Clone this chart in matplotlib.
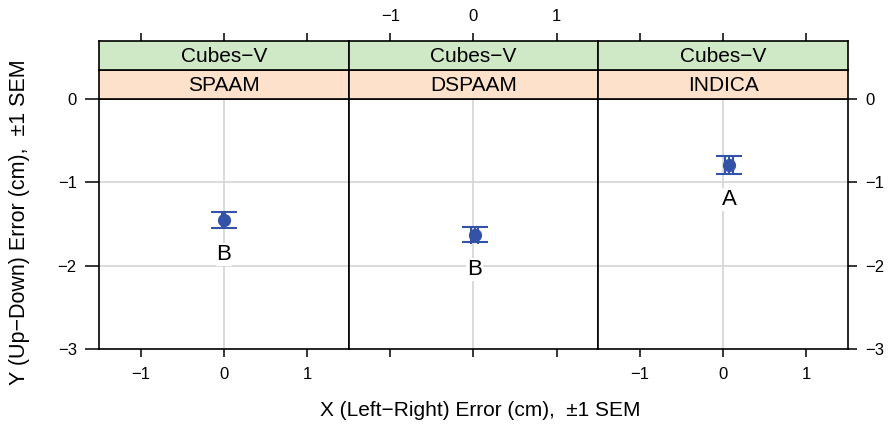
import matplotlib.pyplot as plt

plt.rcParams['font.family'] = ['Liberation Sans', 'DejaVu Sans']

# mean placement error per calibration method, cm
methods = ["SPAAM", "DSPAAM", "INDICA"]
condition = "Cubes\u2212V"
x_mean = [0.0, 0.015, 0.07]
y_mean = [-1.45, -1.63, -0.79]
x_sem = [0.02, 0.04, 0.05]
y_sem = [0.10, 0.09, 0.11]
groups = ["B", "B", "A"]

xticks = [-1, 0, 1]
yticks = [0, -1, -2, -3]

W, H = 892, 434
fig = plt.figure(figsize=(W / 100, H / 100), dpi=100)

left, right = 99, 848
top, bottom = 99, 349
strip_h = 29
pw = (right - left) / 3
blue = "#3352a8"
green = "#cfe8c6"
peach = "#fde1ca"


def fx(px):
    return px / W


def fy(py):
    return 1 - py / H


for i, m in enumerate(methods):
    x0 = left + i * pw
    ax = fig.add_axes([fx(x0), fy(bottom), fx(pw), (bottom - top) / H])
    ax.set_xlim(-1.5, 1.5)
    ax.set_ylim(-3, 0)
    for s in ax.spines.values():
        s.set_linewidth(1.2)
    ax.axvline(0, color="#d4d4d4", lw=1.2, zorder=0)
    for yv in [-1, -2]:
        ax.axhline(yv, color="#d4d4d4", lw=1.2, zorder=0)

    ax.errorbar(x_mean[i], y_mean[i], yerr=y_sem[i], fmt="none",
                ecolor=blue, elinewidth=1.5, capsize=9.5, capthick=1.5)
    ax.errorbar(x_mean[i], y_mean[i], xerr=x_sem[i], fmt="none",
                ecolor=blue, elinewidth=1.5, capsize=6.5, capthick=1.5)
    ax.plot(x_mean[i], y_mean[i], "o", color=blue, ms=8.5, zorder=3)
    ax.text(x_mean[i], y_mean[i] - 0.42, groups[i], ha="center",
            va="center", fontsize=16,
            bbox=dict(facecolor="white", edgecolor="none", pad=0.6))

    # x ticks: bottom labels on outer panels, top labels on middle one
    ax.set_xticks(xticks)
    ax.tick_params(axis="x", direction="out", length=6, width=1.1,
                   labelsize=12, pad=7, top=False,
                   labelbottom=(i != 1))
    ax.set_yticks(yticks)
    if i == 0:
        ax.tick_params(axis="y", direction="out", length=10, width=1.1,
                       labelsize=12, pad=6)
    elif i == 2:
        ax.yaxis.tick_right()
        ax.tick_params(axis="y", direction="out", length=6.5, width=1.1,
                       labelsize=12, pad=6)
    else:
        ax.tick_params(axis="y", left=False, labelleft=False)

    # strips: method (lower) and condition (upper)
    sa = fig.add_axes([fx(x0), fy(top), fx(pw), strip_h / H])
    sa.set_facecolor(peach)
    sa.set_xticks([])
    sa.set_yticks([])
    sa.text(0.5, 0.45, m, ha="center", va="center", fontsize=15,
            transform=sa.transAxes)
    sb = fig.add_axes([fx(x0), fy(top - strip_h), fx(pw), strip_h / H])
    sb.set_facecolor(green)
    sb.set_xlim(-1.5, 1.5)
    sb.set_yticks([])
    sb.set_xticks(xticks)
    sb.xaxis.tick_top()
    sb.tick_params(axis="x", direction="out", length=6, width=1.1,
                   labelsize=12, pad=6, labeltop=(i == 1), bottom=False)
    sb.text(0.5, 0.45, condition, ha="center", va="center", fontsize=15,
            transform=sb.transAxes)
    for a in (sa, sb):
        for s in a.spines.values():
            s.set_linewidth(1.2)

fig.text(fx(480), fy(410), "X (Left\u2212Right) Error (cm),  \u00b11 SEM",
         ha="center", va="center", fontsize=15)
fig.text(fx(20), fy(222), "Y (Up\u2212Down) Error (cm),  \u00b11 SEM",
         ha="center", va="center", rotation=90, fontsize=15.5)

fig.savefig("out.png", dpi=100)
